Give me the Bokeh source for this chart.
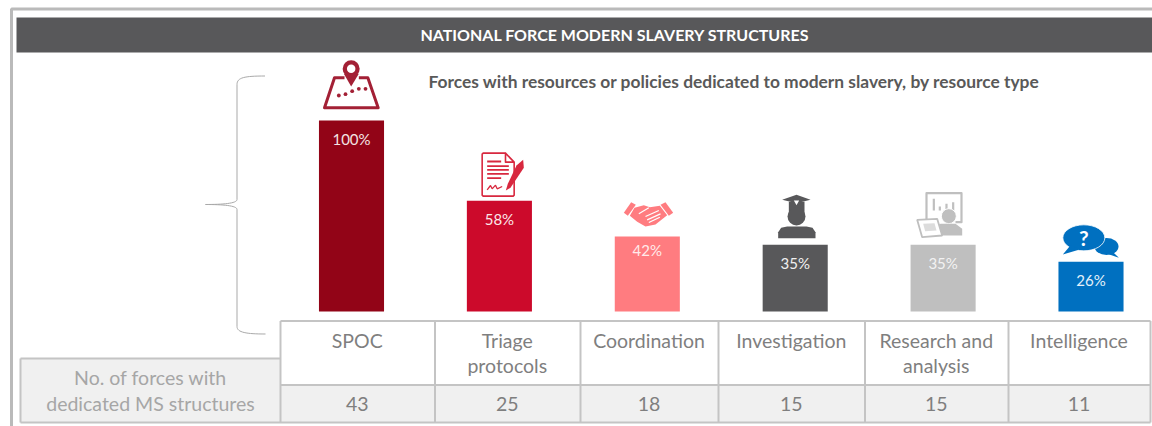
from bokeh.plotting import figure
from bokeh.models import Range1d, ColumnDataSource
from bokeh.core.properties import value
from bokeh.embed import file_html
from bokeh.resources import INLINE

title = "NATIONAL FORCE MODERN SLAVERY STRUCTURES"
subtitle = "Forces with resources or policies dedicated to modern slavery, by resource type"
categories = [["SPOC"], ["Triage", "protocols"], ["Coordination"], ["Investigation"], ["Research and", "analysis"], ["Intelligence"]]
bar_heights = [100, 58, 39.3, 35, 35, 26]
bar_labels = ["100%", "58%", "42%", "35%", "35%", "26%"]
force_counts = [43, 25, 18, 15, 15, 11]
row_label = ["No. of forces with", "dedicated MS structures"]
bar_colors = ["#920417", "#cc0a2b", "#ff7c80", "#58585a", "#bfbfbf", "#0070c0"]
label_colors = ["#f4e4e4", "#fbe6e8", "#ffeaea", "#f0f0f0", "#f2f2f2", "#e4f0fa"]
label_drop = [18.5, 18.5, 13.5, 18.5, 18.5, 18.5]

W, H = 1152, 426
p = figure(width=W, height=H, output_backend="svg", toolbar_location=None,
           x_range=Range1d((0 - 351) / 147.9, (W - 351) / 147.9),
           y_range=Range1d((311 - H) / 1.91, (311 - 0) / 1.91),
           min_border=0, outline_line_color=None, background_fill_color="white")
p.xaxis.visible = False
p.yaxis.visible = False
p.grid.visible = False
p.extra_x_ranges["px"] = Range1d(0, W)
p.extra_y_ranges["px"] = Range1d(H, 0)
PX = dict(x_range_name="px", y_range_name="px")
FONT = value("Lato")
GREY = "#c4c4c4"


def seg(x0, y0, x1, y1, color=GREY, w=2.0, cap="butt"):
    p.line([x0, x1], [y0, y1], line_color=color, line_width=w, line_cap=cap, **PX)


def txt(x, y, s, size, color, style="normal", align="center"):
    p.text([x], [y], text=[s], text_font=FONT, text_font_size=f"{size}px", text_color=color,
           text_font_style=style, text_align=align, text_baseline="middle", **PX)


def zpts(o, pts):
    return [o[0] + a / 3 for a, _ in pts], [o[1] + b / 3 for _, b in pts]


# outer frame and header
p.line([11, 11, 1152], [426, 8.5, 8.5], line_color="#bababa", line_width=3, **PX)
p.quad(left=[16], right=[1152], top=[17], bottom=[52], fill_color="#58585a", line_color=None, **PX)
txt(614.5, 33.5, title, 16, "white", "bold")
txt(428, 81, subtitle, 17.4, "#595959", "bold", "left")

# brace
BR = "#a9a9a9"
p.bezier(x0=[264.5], y0=[75.5], x1=[236.5], y1=[84], cx0=[244], cy0=[75.5], cx1=[236.5], cy1=[77], line_color=BR, line_width=1, **PX)
p.line([236.5, 236.5], [84, 199], line_color=BR, line_width=1, **PX)
p.bezier(x0=[236.5], y0=[199], x1=[205], y1=[204], cx0=[236.5], cy0=[203], cx1=[222], cy1=[204], line_color=BR, line_width=1, **PX)
p.bezier(x0=[236.5], y0=[209], x1=[205], y1=[204], cx0=[236.5], cy0=[205], cx1=[222], cy1=[204], line_color=BR, line_width=1, **PX)
p.line([236.5, 236.5], [209, 326], line_color=BR, line_width=1, **PX)
p.bezier(x0=[236.5], y0=[326], x1=[265], y1=[333.5], cx0=[236.5], cy0=[332], cx1=[246], cy1=[333.5], line_color=BR, line_width=1, **PX)

# bars
idx = list(range(len(bar_heights)))
src = ColumnDataSource(dict(x=idx, top=bar_heights, color=bar_colors, label=bar_labels,
                            tc=label_colors, drop=label_drop))
p.vbar(x="x", width=0.44, bottom=0, top="top", fill_color="color", line_color=None, source=src)
p.text(x="x", y="top", text="label", y_offset="drop", text_color="tc", text_font=FONT, text_font_size="15px",
       text_align="center", text_baseline="middle", source=src)

# table
cols = [280, 434.5, 580, 718, 864.5, 1008, 1150]
p.quad(left=[20], right=[280], top=[358], bottom=[422], fill_color="#f0f0f0", line_color=None, **PX)
p.quad(left=[cols[0]], right=[cols[-1]], top=[384.5], bottom=[422], fill_color="#f0f0f0", line_color=None, **PX)
seg(20, 358, 280, 358)
seg(20, 358, 20, 422)
seg(20, 422, cols[-1], 422)
seg(cols[0], 320.5, cols[-1], 320.5)
seg(cols[0], 384.5, cols[-1], 384.5)
for c in cols:
    seg(c, 320.5, c, 422)
TC = "#7f7f7f"
for i, lines in enumerate(categories):
    cx = (cols[i] + cols[i + 1]) / 2
    for j, s in enumerate(lines):
        txt(cx - 0.5, 339.5 + 25.5 * j, s, 19.5, TC)
    txt(cx - 0.5, 403, str(force_counts[i]), 19.5, TC)
txt(150, 377, row_label[0], 19.5, "#a6a6a6")
txt(150, 403, row_label[1], 19.5, "#a6a6a6")

# icon 1: map with pin
O = (310, 50)
C1 = "#a32035"
xs, ys = zpts(O, [(102, 82), (72, 82), (42, 172), (203, 172), (172, 82), (145, 82)])
p.line(xs, ys, line_color=C1, line_width=3, line_join="round", **PX)
xs, ys = zpts(O, [(122, 108), (100, 70), (145, 70)])
p.patch(xs, ys, fill_color=C1, line_color=None, **PX)
xs, ys = zpts(O, [(122, 55)])
p.scatter(xs, ys, size=17, marker="circle", fill_color=C1, line_color=None, **PX)
p.scatter(xs, ys, size=8.5, marker="circle", fill_color="white", line_color=None, **PX)
xs, ys = zpts(O, [(85, 135), (105, 131), (125, 122), (145, 115), (165, 115)])
p.scatter(xs, ys, size=3.8, marker="circle", fill_color=C1, line_color=None, **PX)

# icon 2: document and pen
C2 = "#d8283f"
xs, ys = zpts(O, [(585, 308), (518, 308), (515, 311), (515, 434), (518, 437), (608, 437), (611, 434), (611, 335), (585, 308), (585, 335), (611, 335)])
p.line(xs, ys, line_color=C2, line_width=1.6, line_join="round", **PX)
for b, e in [(333, 572), (347, 595), (358, 595), (370, 595), (383, 572)]:
    xs, ys = zpts(O, [(530, b), (e, b)])
    p.line(xs, ys, line_color=C2, line_width=1.8, **PX)
xs, ys = zpts(O, [(530, 418), (540, 405), (545, 415), (555, 404), (560, 415), (575, 408)])
p.line(xs, ys, line_color=C2, line_width=1.3, **PX)
xs, ys = zpts(O, [(638, 328), (640, 352), (600, 412), (586, 420), (592, 400), (618, 345)])
p.patch(xs, ys, fill_color=C2, line_color=None, **PX)

# icon 3: handshake
O3 = (610, 180)
C3 = "#ff7c80"
for poly in ([(40, 97), (62, 65), (76, 73), (52, 106)], [(150, 73), (165, 65), (188, 97), (175, 106)]):
    xs, ys = zpts(O3, poly)
    p.patch(xs, ys, fill_color=C3, line_color=None, **PX)
xs, ys = zpts(O3, [(72, 82), (100, 74), (118, 80), (148, 76), (170, 104), (135, 132), (105, 138), (80, 124), (58, 106)])
p.patch(xs, ys, fill_color=C3, line_color=None, **PX)
for a, b in [((85, 100), (115, 82)), ((110, 118), (150, 100)), ((115, 126), (148, 110)), ((105, 108), (145, 90))]:
    xs, ys = zpts(O3, [a, b])
    p.line(xs, ys, line_color="white", line_width=1.2, **PX)

# icon 4: graduate
C4 = "#58585a"
xs, ys = zpts(O3, [(515, 58), (558, 43), (600, 58), (558, 68)])
p.patch(xs, ys, fill_color=C4, line_color=None, **PX)
xs, ys = zpts(O3, [(535, 64), (582, 64), (582, 100), (535, 100)])
p.patch(xs, ys, fill_color=C4, line_color=None, **PX)
xs, ys = zpts(O3, [(550, 60), (566, 60), (558, 74)])
p.patch(xs, ys, fill_color="white", line_color=None, **PX)
xs, ys = zpts(O3, [(558, 108)])
p.scatter(xs, ys, size=18, marker="circle", fill_color=C4, line_color=None, **PX)
xs, ys = zpts(O3, [(503, 173), (503, 155), (512, 142), (530, 138), (588, 138), (606, 142), (615, 155), (615, 173)])
p.patch(xs, ys, fill_color=C4, line_color=None, **PX)

# icon 5: analyst at a screen
O5 = (900, 180)
C5 = "#bfbfbf"
xs, ys = zpts(O5, [(78, 118), (78, 38), (183, 38), (183, 125), (165, 125)])
p.line(xs, ys, line_color=C5, line_width=2.2, line_join="round", **PX)
for bx, t in [(100, 55), (118, 78), (138, 70), (158, 65)]:
    xs, ys = zpts(O5, [(bx, t), (bx, 90)])
    p.line(xs, ys, line_color=C5, line_width=2.2, **PX)
xs, ys = zpts(O5, [(145, 107)])
p.scatter(xs, ys, size=15, marker="circle", fill_color=C5, line_color="white", line_width=1, **PX)
xs, ys = zpts(O5, [(95, 165), (100, 142), (120, 130), (165, 130), (185, 145), (185, 165)])
p.patch(xs, ys, fill_color=C5, line_color=None, **PX)
xs, ys = zpts(O5, [(50, 118), (110, 115), (125, 165), (65, 170)])
p.patch(xs, ys, fill_color="white", line_color=C5, line_width=1.8, **PX)
xs, ys = zpts(O5, [(68, 130), (102, 128), (108, 150), (74, 152)])
p.patch(xs, ys, fill_color="#dcdcdc", line_color=None, **PX)

# icon 6: speech bubbles
C6 = "#0070c0"
xs, ys = zpts(O5, [(618, 198)])
p.ellipse(xs, ys, width=24, height=17, fill_color=C6, line_color=None, **PX)
xs, ys = zpts(O5, [(635, 212), (655, 232), (615, 218)])
p.patch(xs, ys, fill_color=C6, line_color=None, **PX)
xs, ys = zpts(O5, [(550, 172)])
p.ellipse(xs, ys, width=42, height=26, fill_color=C6, line_color="white", line_width=0.8, **PX)
xs, ys = zpts(O5, [(512, 192), (487, 222), (535, 208)])
p.patch(xs, ys, fill_color=C6, line_color=None, **PX)
txt(900 + 550 / 3, 180 + 172 / 3 - 0.5, "?", 21, "white", "bold")

open("out.html", "w").write(file_html(p, INLINE))
